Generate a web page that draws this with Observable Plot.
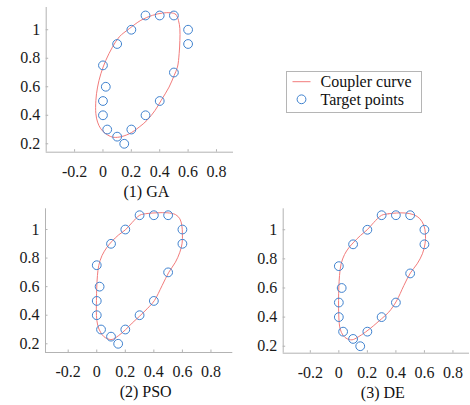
<!DOCTYPE html>
<html>
<head>
<meta charset="utf-8">
<script src="https://cdn.jsdelivr.net/npm/d3@7"></script>
<script src="https://cdn.jsdelivr.net/npm/@observablehq/plot@0.6"></script>
<style>
  html, body { margin: 0; padding: 0; background: #fff; }
  #root { position: relative; width: 470px; height: 405px; overflow: hidden; font-family: "Liberation Serif", "Times New Roman", serif; }
  .panel { position: absolute; }
  #legend { position: absolute; left: 286px; top: 71px; }
</style>
</head>
<body>
<div id="root"></div>
<script>
// ---- data ----
const xTicks = [-0.2, 0, 0.2, 0.4, 0.6, 0.8];
const xTickLabels = ["-0.2", "0", "0.2", "0.4", "0.6", "0.8"];
const yTicks = [0.2, 0.4, 0.6, 0.8, 1];
const yTickLabels = ["0.2", "0.4", "0.6", "0.8", "1"];

const targetX = [0, 0.1, 0.2, 0.3, 0.4, 0.5, 0.6, 0.6, 0.5, 0.4, 0.3, 0.2, 0.15, 0.1, 0.03, 0, 0, 0.02];
const targetY = [0.75, 0.9, 1.0, 1.1, 1.1, 1.1, 1.0, 0.9, 0.7, 0.5, 0.4, 0.3, 0.2, 0.25, 0.3, 0.4, 0.5, 0.6];

const gaCurve = [
  [0.478, 1.119], [0.513, 1.108], [0.532, 1.066], [0.542, 1.007], [0.542, 0.925],
  [0.537, 0.832], [0.525, 0.738], [0.502, 0.680], [0.466, 0.598], [0.410, 0.504],
  [0.367, 0.434], [0.310, 0.364], [0.255, 0.317], [0.185, 0.270], [0.114, 0.247],
  [0.067, 0.247], [0.020, 0.270], [-0.015, 0.305], [-0.038, 0.352], [-0.050, 0.411],
  [-0.050, 0.504], [-0.038, 0.598], [-0.015, 0.691], [0.020, 0.785], [0.067, 0.878],
  [0.114, 0.949], [0.185, 1.007], [0.267, 1.066], [0.349, 1.101], [0.419, 1.117]
];
const psoCurve = [
  [0.301, 1.100], [0.353, 1.112], [0.423, 1.117], [0.493, 1.117], [0.551, 1.105],
  [0.582, 1.075], [0.596, 1.028], [0.600, 0.970], [0.598, 0.904], [0.582, 0.841],
  [0.551, 0.771], [0.505, 0.701], [0.458, 0.608], [0.404, 0.503], [0.353, 0.445],
  [0.301, 0.394], [0.248, 0.345], [0.201, 0.298], [0.154, 0.258], [0.107, 0.230],
  [0.077, 0.235], [0.049, 0.251], [0.026, 0.282], [0.007, 0.328], [-0.002, 0.398],
  [-0.002, 0.503], [0.000, 0.596], [0.005, 0.678], [0.014, 0.748], [0.037, 0.818],
  [0.072, 0.876], [0.107, 0.918], [0.154, 0.963], [0.201, 0.998], [0.248, 1.049]
];
const deCurve = [
  [0.299, 1.099], [0.350, 1.110], [0.404, 1.115], [0.467, 1.115], [0.526, 1.103],
  [0.568, 1.076], [0.596, 1.030], [0.607, 0.973], [0.605, 0.908], [0.586, 0.835],
  [0.549, 0.766], [0.502, 0.704], [0.456, 0.617], [0.404, 0.510], [0.350, 0.434],
  [0.299, 0.388], [0.245, 0.342], [0.187, 0.297], [0.133, 0.262], [0.093, 0.244],
  [0.058, 0.251], [0.030, 0.274], [0.009, 0.320], [0.000, 0.400], [-0.002, 0.514],
  [0.000, 0.606], [0.005, 0.686], [0.016, 0.766], [0.040, 0.830], [0.070, 0.876],
  [0.105, 0.915], [0.152, 0.961], [0.199, 1.000], [0.245, 1.050]
];
const panelTitles = ["(1) GA", "(2) PSO", "(3) DE"];
const legendLabels = ["Coupler curve", "Target points"];

// ---- styles / layout ----
const CURVE = "#f27c7c";
const DOT = "#3f82cf";
const AXIS = "#b3b3b3";
const TEXT = "#1a1a1a";
const FONT = "'Liberation Serif', 'Times New Roman', serif";

const targets = targetX.map((x, i) => ({x, y: targetY[i]}));
const curves = [gaCurve, psoCurve, deCurve];

const layouts = [
  {left: 0, top: 0, width: 240, height: 200, mL: 45.7, mR: 7, mT: 7, mB: 48.3, xd: [-0.4, 0.92], yd: [0.141, 1.156]},
  {left: 0, top: 200, width: 240, height: 205, mL: 45, mR: 7.7, mT: 8.3, mB: 53, xd: [-0.359, 0.953], yd: [0.139, 1.145]},
  {left: 240, top: 200, width: 230, height: 205, mL: 42.7, mR: 1, mT: 8.3, mB: 52.3, xd: [-0.39, 0.916], yd: [0.152, 1.144]}
];

const root = document.getElementById("root");

layouts.forEach((L, k) => {
  const chart = Plot.plot({
    width: L.width,
    height: L.height,
    marginLeft: L.mL,
    marginRight: L.mR,
    marginTop: L.mT,
    marginBottom: L.mB,
    style: {fontFamily: FONT, fontSize: "16px", background: "transparent", overflow: "visible"},
    x: {domain: L.xd, axis: null},
    y: {domain: L.yd, axis: null},
    marks: [
      Plot.ruleY([L.yd[0]], {stroke: AXIS, strokeWidth: 1}),
      Plot.ruleX([L.xd[0]], {stroke: AXIS, strokeWidth: 1}),
      Plot.axisX(xTicks, {tickSize: -2.5, tickFormat: () => "", stroke: AXIS, label: null}),
      Plot.axisY(yTicks, {tickSize: -2.5, tickFormat: () => "", stroke: AXIS, label: null}),
      Plot.text(xTicks, {x: d => d, frameAnchor: "bottom", dy: 19.5, lineAnchor: "middle", textAnchor: "middle",
        text: (d, i) => xTickLabels[i], fill: TEXT, fontSize: 16}),
      Plot.text(yTicks, {y: d => d, frameAnchor: "left", dx: -6, lineAnchor: "middle", textAnchor: "end",
        text: (d, i) => yTickLabels[i], fill: TEXT, fontSize: 16}),
      Plot.line(curves[k], {x: d => d[0], y: d => d[1], curve: "catmull-rom-closed", stroke: CURVE, strokeWidth: 1}),
      Plot.dot(targets, {x: "x", y: "y", r: 4.4, stroke: DOT, strokeWidth: 1, fill: "none"}),
      Plot.text([panelTitles[k]], {frameAnchor: "bottom", dx: 6.5, dy: 39.8, lineAnchor: "middle", textAnchor: "middle",
        text: d => d, fill: "#111", fontSize: 16})
    ]
  });
  chart.classList.add("panel");
  chart.style.left = L.left + "px";
  chart.style.top = L.top + "px";
  root.appendChild(chart);
});

// ---- legend ----
const ns = "http://www.w3.org/2000/svg";
const lg = document.createElementNS(ns, "svg");
lg.setAttribute("id", "legend");
lg.setAttribute("width", 137);
lg.setAttribute("height", 43);
lg.innerHTML = `
  <rect x="0.5" y="0.5" width="135" height="41" fill="#fff" stroke="#b5b5b5" stroke-width="1"></rect>
  <line x1="6.5" x2="24.5" y1="10.7" y2="10.7" stroke="${CURVE}" stroke-width="1"></line>
  <circle cx="15.5" cy="28.3" r="4.4" fill="none" stroke="${DOT}" stroke-width="1"></circle>
  <text x="34.5" y="10.7" dy="0.33em" font-family="${FONT}" font-size="16" fill="#111">${legendLabels[0]}</text>
  <text x="34.5" y="28.3" dy="0.33em" font-family="${FONT}" font-size="16" fill="#111">${legendLabels[1]}</text>
`;
root.appendChild(lg);
</script>
</body>
</html>
